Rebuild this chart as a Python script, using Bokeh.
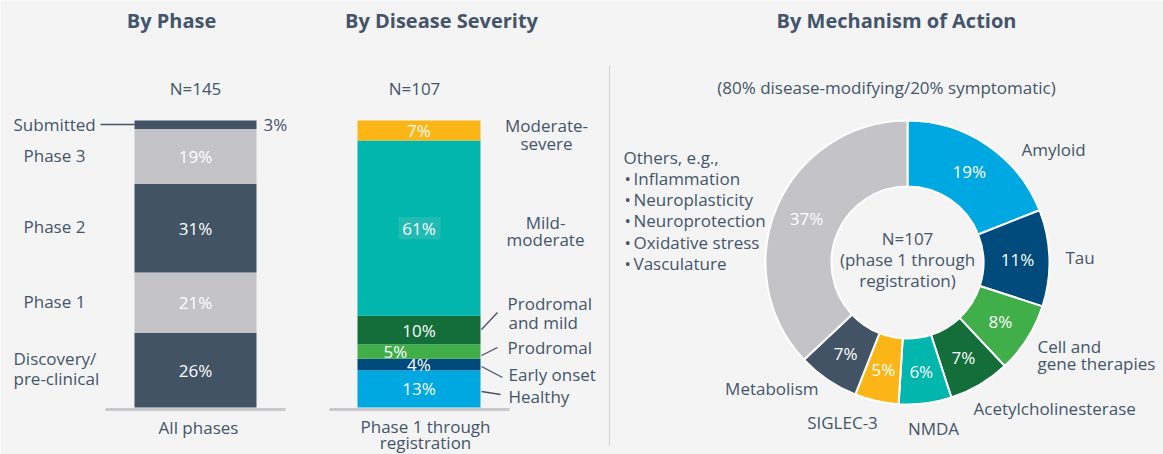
import numpy as np
from bokeh.plotting import figure
from bokeh.models import Range1d
from bokeh.core.properties import value
from bokeh.embed import file_html
from bokeh.resources import INLINE

# ---------------- data ----------------
phase_names = ["Discovery/pre-clinical", "Phase 1", "Phase 2", "Phase 3", "Submitted"]
phase_values = [26, 21, 31, 19, 3]
phase_colors = ["#435366", "#c4c3c8", "#435366", "#c4c3c8", "#435366"]
phase_n = "N=145"
phase_category = "All phases"

severity_names = ["Healthy", "Early onset", "Prodromal", "Prodromal and mild",
                  "Mild-moderate", "Moderate-severe"]
severity_values = [13, 4, 5, 10, 61, 7]
severity_colors = ["#00a8e1", "#004a7c", "#40ae49", "#136e3a", "#00b6ad", "#fbb516"]
severity_n = "N=107"

moa_names = ["Amyloid", "Tau", "Cell and gene therapies", "Acetylcholinesterase",
             "NMDA", "SIGLEC-3", "Metabolism", "Others"]
moa_values = [19, 11, 8, 7, 6, 5, 7, 37]
moa_colors = ["#00a8e1", "#004a7c", "#40ae49", "#136e3a", "#00b6ad", "#fbb516",
              "#435366", "#c4c3c8"]

BG = "#f4f4f4"
TXT = "#44546a"
FONT = value("Open Sans")
W, H = 1163, 454
FS = "17px"

p = figure(width=W, height=H, x_range=Range1d(0, W), y_range=Range1d(0, H),
           output_backend="svg", toolbar_location=None, min_border=0,
           x_axis_location=None, y_axis_location=None)
p.background_fill_color = BG
p.border_fill_color = BG
p.outline_line_color = None
p.grid.visible = False

# bars: 0% at page y 407, 100% at page y 120
BAR_BOTTOM_U = H - 407
PX_PER_PCT = 2.87
p.extra_y_ranges = {"pct": Range1d((0 - BAR_BOTTOM_U) / PX_PER_PCT,
                                   (H - BAR_BOTTOM_U) / PX_PER_PCT)}


def txt(x, y, s, align="left", color=TXT, size=FS, bold=False):
    p.text(x=[x], y=[H - y], text=[s], text_align=align, text_baseline="middle",
           text_font=FONT, text_font_size=size, text_color=color,
           text_font_style="bold" if bold else "normal")


def seg(x0, y0, x1, y1, color=TXT, w=1.3):
    p.segment(x0=[x0], y0=[H - y0], x1=[x1], y1=[H - y1], line_color=color,
              line_width=w)


# ---------------- panel 1: By Phase ----------------
pv = np.array(phase_values, dtype=float)
top1 = np.cumsum(pv)
bot1 = top1 - pv
p.vbar(x=195, width=122, bottom=bot1, top=top1, fill_color=phase_colors,
       line_color=None, y_range_name="pct")
mid1 = (top1 + bot1) / 2
in_idx = [i for i in range(len(pv)) if pv[i] >= 10]
p.text(x=[195] * len(in_idx), y=[mid1[i] for i in in_idx],
       text=[f"{int(pv[i])}%" for i in in_idx], text_align="center",
       text_baseline="middle", text_font=FONT, text_font_size=FS,
       text_color="white", y_range_name="pct")
p.text(x=[263], y=[mid1[4]], text=[f"{int(pv[4])}%"], text_align="left",
       text_baseline="middle", text_font=FONT, text_font_size=FS,
       text_color=TXT, y_range_name="pct")
seg(105, 409, 285, 409, color="#c9c9cd", w=3)
seg(100, 124, 134, 124)
txt(171, 20, "By Phase", align="center", size="20px", bold=True)
txt(195, 88, phase_n, align="center")
txt(13, 124, "Submitted")
txt(23, 155, "Phase 3")
txt(23, 226, "Phase 2")
txt(23, 301, "Phase 1")
txt(13, 358, "Discovery/")
txt(13, 378, "pre-clinical")
txt(198, 427, phase_category, align="center")

# ---------------- panel 2: By Disease Severity ----------------
sv = np.array(severity_values, dtype=float)
top2 = np.cumsum(sv)
bot2 = top2 - sv
p.vbar(x=418.5, width=123, bottom=bot2, top=top2, fill_color=severity_colors,
       line_color=None, y_range_name="pct")
mid2 = (top2 + bot2) / 2
# highlight box behind 61%
p.quad(left=[398], right=[440], bottom=[mid2[4] - 3.9], top=[mid2[4] + 3.9],
       fill_color="#22bbb3", line_color=None, y_range_name="pct")
xs2 = [418.5, 418.5, 395, 418.5, 418.5, 418.5]
p.text(x=xs2, y=mid2, text=[f"{int(v)}%" for v in sv], text_align="center",
       text_baseline="middle", text_font=FONT, text_font_size=FS,
       text_color="white", y_range_name="pct")
seg(329, 409, 509, 409, color="#c9c9cd", w=3)
txt(441, 20, "By Disease Severity", align="center", size="20px", bold=True)
txt(414, 88, severity_n, align="center")
txt(546, 125, "Moderate-", align="center")
txt(546, 143, "severe", align="center")
txt(545, 222, "Mild-", align="center")
txt(545, 239, "moderate", align="center")
txt(507, 303, "Prodromal")
txt(508, 322, "and mild")
txt(507, 347, "Prodromal")
txt(508, 374, "Early onset")
txt(508, 396, "Healthy")
seg(481, 329, 497, 312)
seg(481, 355, 497, 347)
seg(481, 366, 502, 377)
seg(481, 391, 500, 394)
txt(425, 426, "Phase 1 through", align="center")
txt(425, 442, "registration", align="center")

# ---------------- panel 3: By Mechanism of Action ----------------
mv = np.array(moa_values, dtype=float)
frac = mv / mv.sum()
c1 = np.cumsum(frac)
c0 = c1 - frac
CX, CY = 907, H - 262
start = np.pi / 2 - 2 * np.pi * c1
end = np.pi / 2 - 2 * np.pi * c0
p.annular_wedge(x=CX, y=CY, inner_radius=76, outer_radius=142,
                start_angle=start, end_angle=end, fill_color=moa_colors,
                line_color="white", line_width=2)
midang = np.pi / 2 - 2 * np.pi * (c0 + c1) / 2
rl = 110
p.text(x=CX + rl * np.cos(midang), y=CY + rl * np.sin(midang),
       text=[f"{int(v)}%" for v in mv], text_align="center", text_baseline="middle",
       text_font=FONT, text_font_size=FS, text_color="white")
seg(609, 65, 609, 445, color="#d2d2d2", w=1)
txt(896, 20, "By Mechanism of Action", align="center", size="20px", bold=True)
txt(886, 87, "(80% disease-modifying/20% symptomatic)", align="center")
txt(907, 238, "N=107", align="center")
txt(907, 259, "(phase 1 through", align="center")
txt(907, 280, "registration)", align="center")
txt(1021, 149, "Amyloid")
txt(1065, 257, "Tau")
txt(1037, 346, "Cell and")
txt(1037, 363, "gene therapies")
txt(973, 408, "Acetylcholinesterase")
txt(933, 428, "NMDA", align="center")
txt(842, 422, "SIGLEC-3", align="center")
txt(818, 388, "Metabolism", align="right")
txt(623, 157, "Others, e.g.,")
for yy, s in zip([178, 199, 220, 242, 263],
                 ["Inflammation", "Neuroplasticity", "Neuroprotection",
                  "Oxidative stress", "Vasculature"]):
    txt(624, yy, "\u2022")
    txt(633, yy, s)

open("out.html", "w").write(file_html(p, INLINE))
